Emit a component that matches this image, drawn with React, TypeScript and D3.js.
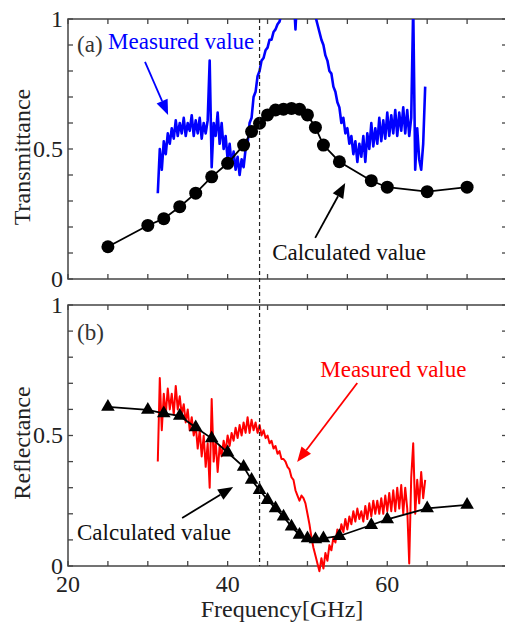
import React from 'react';
import * as d3 from 'd3';

// calculated values (markers)
const calcFreq = [25, 30, 32, 34, 36, 38, 40, 42, 43, 44, 45, 46, 47, 48, 49, 50, 51, 52, 54, 58, 60, 65, 70];
const calcTrans = [0.124, 0.206, 0.232, 0.278, 0.33, 0.393, 0.445, 0.515, 0.567, 0.599, 0.631, 0.65, 0.653, 0.656, 0.653, 0.631, 0.583, 0.515, 0.451, 0.378, 0.353, 0.336, 0.353];
const calcRefl = [0.61, 0.598, 0.585, 0.575, 0.531, 0.489, 0.435, 0.38, 0.33, 0.291, 0.253, 0.221, 0.189, 0.151, 0.119, 0.106, 0.102, 0.106, 0.115, 0.157, 0.179, 0.221, 0.234];

// measured values, sampled every 0.25 GHz from 31.25 GHz
const measStart = 31.25;
const measStep = 0.25;
const measTrans = [
  0.33, 0.50, 0.42, 0.53, 0.48, 0.56, 0.52, 0.58, 0.54, 0.61, 0.55, 0.60, 0.56, 0.62, 0.55, 0.60,
  0.57, 0.63, 0.55, 0.61, 0.56, 0.62, 0.54, 0.60, 0.56, 0.61, 0.84, 0.43, 0.60, 0.55, 0.64, 0.52,
  0.60, 0.50, 0.55, 0.46, 0.52, 0.44, 0.49, 0.42, 0.47, 0.40, 0.46, 0.43, 0.50, 0.52, 0.60, 0.62,
  0.70, 0.72, 0.78, 0.80, 0.84, 0.85, 0.88, 0.89, 0.92, 0.92, 0.95, 0.96, 0.98, 0.99, 1.02, 1.05,
  1.08, 1.10, 1.12, 1.12, 1.10, 0.96, 1.12, 1.15, 1.15, 1.15, 1.14, 1.12, 1.10, 1.08, 1.04, 1.01,
  0.98, 0.95, 0.92, 0.90, 0.86, 0.84, 0.80, 0.79, 0.74, 0.72, 0.68, 0.66, 0.60, 0.62, 0.56, 0.58,
  0.52, 0.55, 0.48, 0.53, 0.45, 0.52, 0.47, 0.55, 0.45, 0.56, 0.50, 0.60, 0.51, 0.58, 0.52, 0.62,
  0.53, 0.61, 0.54, 0.64, 0.55, 0.63, 0.56, 0.65, 0.55, 0.64, 0.57, 0.66, 0.56, 0.65, 0.55, 0.62,
  1.05, 0.42, 0.58, 0.46, 0.42, 0.52, 0.74
];
const measRefl = [
  0.40, 0.72, 0.52, 0.66, 0.58, 0.68, 0.60, 0.66, 0.58, 0.69, 0.60, 0.65, 0.58, 0.62, 0.55, 0.60,
  0.52, 0.57, 0.50, 0.54, 0.45, 0.52, 0.42, 0.50, 0.38, 0.47, 0.30, 0.64, 0.40, 0.48, 0.36, 0.46,
  0.42, 0.48, 0.44, 0.50, 0.46, 0.51, 0.48, 0.53, 0.49, 0.54, 0.50, 0.55, 0.51, 0.57, 0.51, 0.56,
  0.52, 0.55, 0.51, 0.54, 0.50, 0.52, 0.49, 0.50, 0.47, 0.48, 0.45, 0.46, 0.43, 0.44, 0.41, 0.41,
  0.40, 0.38, 0.37, 0.34, 0.33, 0.29, 0.27, 0.25, 0.27, 0.26, 0.24, 0.20, 0.16, 0.11, 0.07, 0.04,
  0.01, -0.02, 0.03, -0.01, 0.05, 0.02, 0.08, 0.06, 0.11, 0.09, 0.14, 0.11, 0.16, 0.13, 0.18, 0.14,
  0.19, 0.16, 0.21, 0.17, 0.22, 0.18, 0.21, 0.17, 0.23, 0.18, 0.24, 0.19, 0.25, 0.20, 0.25, 0.20,
  0.26, 0.20, 0.27, 0.21, 0.28, 0.21, 0.29, 0.21, 0.30, 0.22, 0.31, 0.20, 0.30, 0.22, 0.01, 0.34,
  0.47, 0.20, 0.33, 0.24, 0.36, 0.26, 0.33
];

const xTickLabels = [20, 40, 60];
const yTickLabels = [0, 0.5, 1];
const markerFreq = 44;

const FONT = "'Liberation Serif', 'Times New Roman', 'DejaVu Serif', serif";
const W = 505;
const H = 628;

const x = d3.scaleLinear().domain([20, 75]).range([68, 507]);
const yTop = d3.scaleLinear().domain([0, 1]).range([279, 19]);
const yBot = d3.scaleLinear().domain([0, 1]).range([566, 305]);

const txt = { fontFamily: FONT };

function Arrow({ x1, y1, x2, y2, color }: { x1: number; y1: number; x2: number; y2: number; color: string }) {
  const a = Math.atan2(y2 - y1, x2 - x1);
  const len = 15;
  const half = 6;
  const bx = x2 - len * Math.cos(a);
  const by = y2 - len * Math.sin(a);
  const px = -Math.sin(a) * half;
  const py = Math.cos(a) * half;
  return (
    <g>
      <line x1={x1} y1={y1} x2={bx} y2={by} stroke={color} strokeWidth={1.8} />
      <path d={`M${x2},${y2}L${bx + px},${by + py}L${bx - px},${by - py}Z`} fill={color} />
    </g>
  );
}

function Frame({ y, id, showX }: { y: d3.ScaleLinear<number, number>; id: string; showX: boolean }) {
  const [x0, x1] = x.range();
  const [y0, y1] = y.range();
  const tl = 5;
  return (
    <g>
      <clipPath id={id}>
        <rect x={x0} y={y1} width={x1 - x0} height={y0 - y1 + 12} />
      </clipPath>
      <rect x={x0} y={y1} width={x1 - x0} height={y0 - y1} fill="none" stroke="#444" strokeWidth={1.5} />
      {x.ticks(11).map((t) => (
        <g key={'x' + t} stroke="#444" strokeWidth={1.3}>
          <line x1={x(t)} x2={x(t)} y1={y0} y2={y0 - tl} />
          <line x1={x(t)} x2={x(t)} y1={y1} y2={y1 + tl} />
        </g>
      ))}
      {y.ticks(10).map((t) => (
        <g key={'y' + t} stroke="#444" strokeWidth={1.3}>
          <line x1={x0} x2={x0 + tl} y1={y(t)} y2={y(t)} />
          <line x1={x1} x2={x1 - tl} y1={y(t)} y2={y(t)} />
        </g>
      ))}
      {yTickLabels.map((t) => (
        <text key={'yl' + t} x={x0 - 5} y={y(t)} dy="0.33em" textAnchor="end" fontSize={24} fill="#222" style={txt}>
          {t}
        </text>
      ))}
      {showX &&
        xTickLabels.map((t) => (
          <text key={'xl' + t} x={x(t)} y={592} textAnchor="middle" fontSize={24} fill="#222" style={txt}>
            {t}
          </text>
        ))}
    </g>
  );
}

export default function App() {
  const measFreq = measTrans.map((_, i) => measStart + i * measStep);
  const measLine = (y: d3.ScaleLinear<number, number>) =>
    d3
      .line<number>()
      .x((_, i) => x(measFreq[i]))
      .y((d) => y(d));
  const calcLine = (y: d3.ScaleLinear<number, number>) =>
    d3
      .line<number>()
      .x((_, i) => x(calcFreq[i]))
      .y((d) => y(d));
  const tri = d3.symbol(d3.symbolTriangle, 80)()!;

  return (
    <svg width={W} height={H} style={{ position: 'absolute', left: 0, top: 0, background: '#fff', fontFamily: FONT }}>
      {/* (a) transmittance */}
      <Frame y={yTop} id="clipTop" showX={false} />
      <path d={measLine(yTop)(measTrans)!} fill="none" stroke="#0000ff" strokeWidth={2.6} strokeLinejoin="round" clipPath="url(#clipTop)" />
      <path d={calcLine(yTop)(calcTrans)!} fill="none" stroke="#000" strokeWidth={1.8} />
      {calcTrans.map((d, i) => (
        <circle key={i} cx={x(calcFreq[i])} cy={yTop(d)} r={6.5} fill="#000" />
      ))}

      {/* (b) reflectance */}
      <Frame y={yBot} id="clipBot" showX={true} />
      <path d={measLine(yBot)(measRefl)!} fill="none" stroke="#ff0000" strokeWidth={2} strokeLinejoin="round" clipPath="url(#clipBot)" />
      <path d={calcLine(yBot)(calcRefl)!} fill="none" stroke="#000" strokeWidth={1.8} />
      {calcRefl.map((d, i) => (
        <path key={i} d={tri} transform={`translate(${x(calcFreq[i])},${yBot(d)})`} fill="#000" />
      ))}

      {/* annotations */}
      <text x={x(21.13)} y={yTop(0.873)} fontSize={23} fill="#333" style={txt}>(a)</text>
      <text x={x(25.02)} y={yTop(0.885)} fontSize={23} fill="#0000ff" style={txt}>Measured value</text>
      <Arrow x1={x(29.65)} y1={yTop(0.835)} x2={x(32.54)} y2={yTop(0.631)} color="#0000ff" />
      <text x={x(45.58)} y={yTop(0.073)} fontSize={23} fill="#111" style={txt}>Calculated value</text>
      <Arrow x1={x(50.97)} y1={yTop(0.158)} x2={x(54.73)} y2={yTop(0.369)} color="#000" />

      <text x={x(21.13)} y={yBot(0.866)} fontSize={23} fill="#333" style={txt}>(b)</text>
      <text x={x(51.6)} y={yBot(0.724)} fontSize={23} fill="#ff0000" style={txt}>Measured value</text>
      <Arrow x1={x(56.24)} y1={yBot(0.701)} x2={x(48.71)} y2={yBot(0.398)} color="#ff0000" />
      <text x={x(21.13)} y={yBot(0.1)} fontSize={23} fill="#111" style={txt}>Calculated value</text>
      <Arrow x1={x(34.3)} y1={yBot(0.184)} x2={x(40.69)} y2={yBot(0.303)} color="#000" />

      {/* marker frequency */}
      <line x1={x(markerFreq)} x2={x(markerFreq)} y1={yTop(1)} y2={yBot(0)} stroke="#222" strokeWidth={1.2} strokeDasharray="4,3" />

      {/* axis titles */}
      <text transform={`translate(30,157) rotate(-90)`} textAnchor="middle" fontSize={24} fill="#222" style={txt}>Transmittance</text>
      <text transform={`translate(30,443) rotate(-90)`} textAnchor="middle" fontSize={24} fill="#222" style={txt}>Reflectance</text>
      <text x={282} y={617} textAnchor="middle" fontSize={24} fill="#222" style={txt}>Frequency[GHz]</text>
    </svg>
  );
}
